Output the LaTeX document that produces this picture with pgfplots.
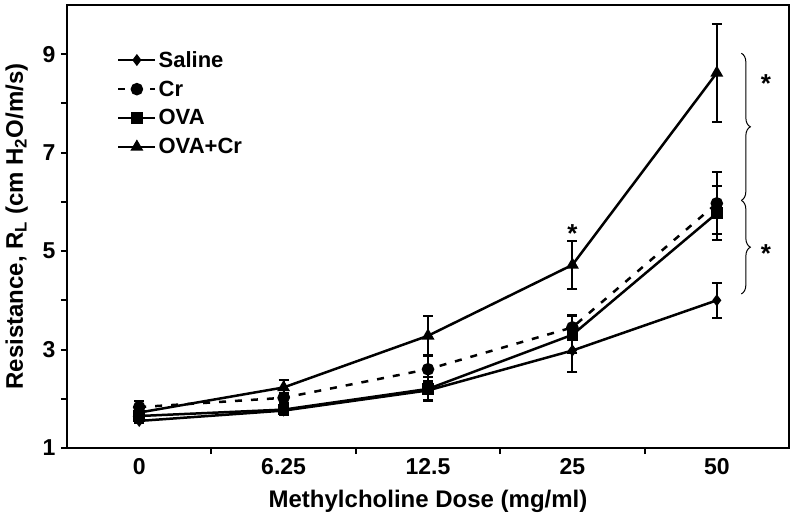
\documentclass[border=0pt]{standalone}
\usepackage{pgfplots}
\pgfplotsset{compat=1.18}
\usepackage{fontspec}
\setmainfont{Liberation Sans}
\usetikzlibrary{decorations.pathreplacing}
\begin{document}
\begin{tikzpicture}
\begin{axis}[
  name=a,
  scale only axis,
  width=722pt, height=443pt,
  xmin=-0.5, xmax=4.5, ymin=1, ymax=10,
  xtick={0,1,2,3,4},
  xticklabels={0,6.25,12.5,25,50},
  minor xtick={0.5,1.5,2.5,3.5},
  major x tick style={draw=none},
  ytick={1,3,5,7,9},
  minor ytick={2,4,6,8},
  tick align=outside,
  xtick pos=bottom, ytick pos=left,
  major tick length=6pt, minor tick length=6pt,
  tick style={line width=2pt, black},
  axis line style={line width=2.5pt},
  /pgf/number format/assume math mode=true,
  ticklabel style={font=\bfseries\fontsize{23}{25}\selectfont},
  xticklabel style={yshift=-1pt},
  yticklabel style={xshift=-2pt},
  label style={font=\bfseries\fontsize{24}{26}\selectfont},
  xlabel={Methylcholine Dose (mg/ml)},
  xlabel style={yshift=-8pt},
  ylabel={Resistance, R\textsubscript{L} (cm H\textsubscript{2}O/m/s)},
  ylabel style={yshift=8pt},
  legend style={draw=none, fill=none, at={(0.065,0.905)}, anchor=north west,
    font=\bfseries\fontsize{22}{24}\selectfont, row sep=8pt},
  legend cell align=left,
  legend image code/.code={
    \draw[mark repeat=2,mark phase=2,#1]
      plot coordinates {(0cm,0cm) (0.65cm,0cm) (1.3cm,0cm)};},
  error bars/error bar style={line width=2pt, black, solid},
  error bars/error mark options={rotate=90, mark size=5pt, line width=2pt, solid, black},
  clip=false,
]
\addplot[black, line width=2.5pt, mark=diamond*, mark size=4pt, mark options={solid, fill=black},
  error bars/.cd, y dir=both, y explicit]
  coordinates {(0,1.55) +- (0,0.05) (1,1.76) +- (0,0.08) (2,2.17) +- (0,0.2) (3,2.98) +- (0,0.44) (4,4.0) +- (0,0.36)};
\addlegendentry{Saline}
\addplot[black, line width=2.5pt, dash pattern=on 7pt off 9pt, mark=*, mark size=5pt, mark options={solid, fill=black},
  error bars/.cd, y dir=both, y explicit]
  coordinates {(0,1.83) +- (0,0.12) (1,2.02) +- (0,0.1) (2,2.6) +- (0,0.27) (3,3.45) +- (0,0.25) (4,5.97) +- (0,0.63)};
\addlegendentry{Cr}
\addplot[black, line width=2.5pt, mark=square*, mark size=4.5pt, mark options={solid, fill=black},
  error bars/.cd, y dir=both, y explicit]
  coordinates {(0,1.65) +- (0,0.08) (1,1.78) +- (0,0.1) (2,2.2) +- (0,0.25) (3,3.3) +- (0,0.38) (4,5.77) +- (0,0.55)};
\addlegendentry{OVA}
\addplot[black, line width=2.5pt, mark=triangle*, mark size=5pt, mark options={solid, fill=black},
  error bars/.cd, y dir=both, y explicit]
  coordinates {(0,1.72) +- (0,0.1) (1,2.23) +- (0,0.16) (2,3.28) +- (0,0.4) (3,4.72) +- (0,0.48) (4,8.62) +- (0,1.0)};
\addlegendentry{OVA+Cr}
\draw[decorate, decoration={brace, amplitude=9pt}, line width=1pt] (axis cs:4.17,9.02) -- (axis cs:4.17,6.03);
\draw[decorate, decoration={brace, amplitude=9pt}, line width=1pt] (axis cs:4.17,6.03) -- (axis cs:4.17,4.13);
\node[font=\bfseries\fontsize{26}{26}\selectfont] at (axis cs:4.34,8.4) {*};
\node[font=\bfseries\fontsize{26}{26}\selectfont] at (axis cs:4.34,4.95) {*};
\node[font=\bfseries\fontsize{26}{26}\selectfont] at (axis cs:3,5.35) {*};
\end{axis}
\pgfresetboundingbox
\path ([shift={(-67pt,-81pt)}]a.south west) rectangle ([shift={(6pt,5pt)}]a.north east);
\end{tikzpicture}
\end{document}
